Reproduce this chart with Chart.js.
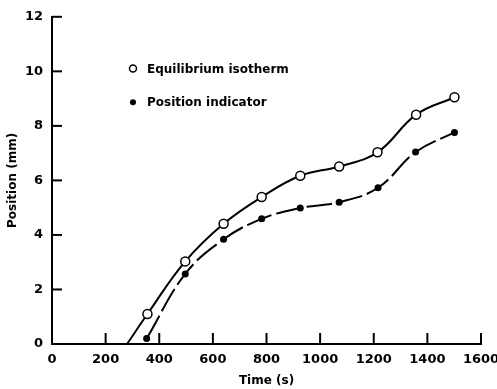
<!DOCTYPE html>
<html>
<head>
<meta charset="utf-8">
<script src="https://cdn.jsdelivr.net/npm/chart.js@4.4.1/dist/chart.umd.min.js"></script>
<style>
  html, body { margin: 0; padding: 0; background: #fff; overflow: hidden; }
  #wrap { width: 520px; height: 389px; }
</style>
</head>
<body>
<div id="wrap"><canvas id="myChart" width="520" height="389"></canvas></div>
<script>
// Equilibrium isotherm (open circles); first point is where the curve leaves the axis
const isoTime = [280, 356, 497, 640, 782, 926, 1071, 1214, 1358, 1501];
const isoPos = [0, 1.1, 3.03, 4.41, 5.39, 6.17, 6.51, 7.03, 8.41, 9.05];

// Position indicator (filled circles)
const indTime = [353, 497, 640, 782, 926, 1071, 1216, 1356, 1501];
const indPos = [0.2, 2.57, 3.84, 4.59, 4.99, 5.2, 5.73, 7.04, 7.76];

const xTicks = [0, 200, 400, 600, 800, 1000, 1200, 1400, 1600];
const yTicks = [0, 2, 4, 6, 8, 10, 12];

const font = 'DejaVu Sans';

const toXY = (xs, ys) => xs.map((x, i) => ({ x: x, y: ys[i] }));

// inward tick marks + legend drawn inside the plot
const extras = {
  id: 'extras',
  afterDraw(chart) {
    const ctx = chart.ctx;
    const xs = chart.scales.x;
    const ys = chart.scales.y;
    ctx.save();
    ctx.strokeStyle = '#000';
    ctx.lineWidth = 2;
    xTicks.forEach(v => {
      const px = xs.getPixelForValue(v);
      if (v === 0) return;
      ctx.beginPath();
      ctx.moveTo(px, ys.bottom);
      ctx.lineTo(px, ys.bottom - 11);
      ctx.stroke();
    });
    yTicks.forEach(v => {
      const py = ys.getPixelForValue(v);
      if (v === 0) return;
      ctx.beginPath();
      ctx.moveTo(xs.left, py);
      ctx.lineTo(xs.left + 10, py);
      ctx.stroke();
    });

    // legend
    const lx = xs.getPixelForValue(302);
    const rows = [ys.getPixelForValue(10.1), ys.getPixelForValue(8.87)];
    ctx.font = 'bold 12px ' + font;
    ctx.textBaseline = 'middle';
    ctx.fillStyle = '#000';
    chart.data.datasets.forEach((ds, i) => {
      const ly = rows[i];
      ctx.beginPath();
      ctx.arc(lx, ly, i === 0 ? 3.5 : 3, 0, Math.PI * 2);
      if (i === 0) {
        ctx.fillStyle = '#fff';
        ctx.fill();
        ctx.lineWidth = 1.5;
        ctx.stroke();
      } else {
        ctx.fillStyle = '#000';
        ctx.fill();
      }
      ctx.fillStyle = '#000';
      ctx.fillText(ds.label, lx + 14, ly + 1);
    });
    ctx.restore();
  }
};

const ctx = document.getElementById('myChart');
const myChart = new Chart(ctx, {
  type: 'scatter',
  data: {
    datasets: [{
      label: 'Equilibrium isotherm',
      data: toXY(isoTime, isoPos),
      showLine: true,
      borderColor: '#000',
      borderWidth: 2,
      tension: 0.4,
      pointRadius: isoTime.map((t, i) => i === 0 ? 0 : 4.5),
      pointBackgroundColor: '#fff',
      pointBorderColor: '#000',
      pointBorderWidth: 1.5
    }, {
      label: 'Position indicator',
      data: toXY(indTime, indPos),
      showLine: true,
      borderColor: '#000',
      borderWidth: 2,
      borderDash: [26, 5],
      tension: 0.4,
      pointRadius: 3.5,
      pointBackgroundColor: '#000',
      pointBorderColor: '#000',
      pointBorderWidth: 0
    }]
  },
  options: {
    responsive: false,
    animation: false,
    devicePixelRatio: 1,
    layout: {
      padding: { top: 14, right: 39, bottom: 0, left: 0 }
    },
    scales: {
      x: {
        type: 'linear',
        min: 0,
        max: 1600,
        afterFit: (scale) => { scale.height = 45; },
        afterBuildTicks: (scale) => { scale.ticks = xTicks.map(v => ({ value: v })); },
        grid: { display: false, drawTicks: false },
        border: { display: true, color: '#000', width: 2 },
        ticks: {
          color: '#000',
          padding: 8,
          maxRotation: 0,
          callback: (v) => String(v),
          font: { family: font, size: 13, weight: 'bold' }
        },
        title: {
          display: true,
          text: 'Time (s)',
          color: '#000',
          padding: { top: 0, bottom: 1 },
          font: { family: font, size: 12, weight: 'bold' }
        }
      },
      y: {
        type: 'linear',
        min: 0,
        max: 12,
        afterFit: (scale) => { scale.width = 52; },
        afterBuildTicks: (scale) => { scale.ticks = yTicks.map(v => ({ value: v })); },
        grid: { display: false, drawTicks: false },
        border: { display: true, color: '#000', width: 2 },
        ticks: {
          color: '#000',
          padding: 9,
          callback: (v) => String(v),
          font: { family: font, size: 13, weight: 'bold' }
        },
        title: {
          display: true,
          text: 'Position (mm)',
          color: '#000',
          padding: { top: 6, bottom: 0 },
          font: { family: font, size: 12, weight: 'bold' }
        }
      }
    },
    plugins: {
      legend: { display: false },
      tooltip: { enabled: false }
    }
  },
  plugins: [extras]
});
</script>
</body>
</html>
